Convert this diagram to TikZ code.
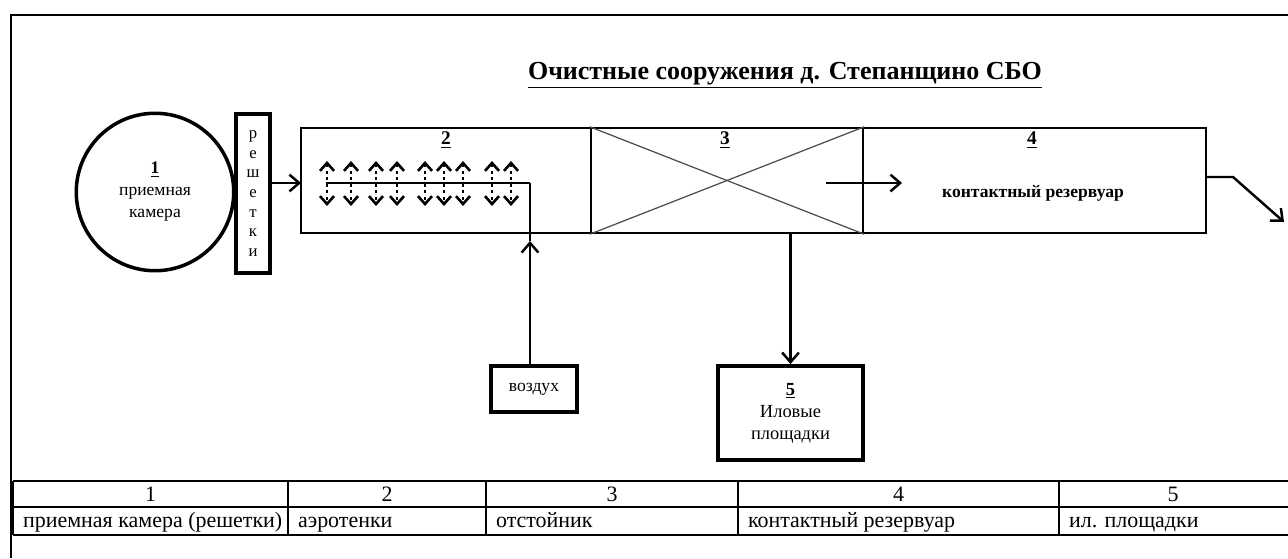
\documentclass[tikz,border=0pt]{standalone}
\usepackage{fontspec}
\setmainfont{Liberation Serif}
\usetikzlibrary{arrows.meta}
\tikzset{
  arr/.style={-{Straight Barb[length=5.5pt,width=9.5pt,line width=1.4pt]}},
  dart/.style={{Straight Barb[length=4.5pt,width=8pt,line width=1.5pt]}-{Straight Barb[length=4.5pt,width=8pt,line width=1.5pt]}},
  thinbox/.style={draw,line width=1.4pt,inner sep=0pt},
  thickbox/.style={draw,line width=2.2pt,inner sep=0pt},
  tabline/.style={line width=1.5pt}
}
\begin{document}
\begin{tikzpicture}[x=0.02cm,y=-0.02cm,line width=1.4pt]
\useasboundingbox (0,0) rectangle (1288,558);
% frame
\draw[line width=1.2pt] (11,558) -- (11,15) -- (1290,15);
\node (title) at (785,75) {\fontsize{14.8}{18}\selectfont\bfseries\underline{Очистные сооружения д. Степанщино СБО}};
% 1 - receiving chamber and screens
\node[circle,draw,line width=2pt,minimum size=3.15cm,align=center,font=\fontsize{10}{12.5}\selectfont] (cam) at (155,192) {\textbf{\underline{1}}\\приемная\\камера};
\node[thickbox,minimum width=0.68cm,minimum height=3.18cm,align=center,font=\fontsize{9.5}{11.2}\selectfont] (resh) at (253,193.5) {р\\е\\ш\\е\\т\\к\\и};
% 2, 3, 4 - main line
\node[thinbox,minimum width=5.8cm,minimum height=2.1cm] (b2) at (446,180.5) {};
\node[thinbox,minimum width=5.44cm,minimum height=2.1cm] (b3) at (727,180.5) {};
\node[thinbox,minimum width=6.86cm,minimum height=2.1cm] (b4) at (1034.5,180.5) {};
\draw[line width=0.7pt,black!70] (b3.north west) -- (b3.south east);
\draw[line width=0.7pt,black!70] (b3.south west) -- (b3.north east);
\node[font=\fontsize{11}{13}\selectfont\bfseries] (n2) at (446,140) {\underline{2}};
\node[font=\fontsize{11}{13}\selectfont\bfseries] (n3) at (725,140) {\underline{3}};
\node[font=\fontsize{11}{13}\selectfont\bfseries] (n4) at (1032,140) {\underline{4}};
\node[font=\fontsize{10}{12}\selectfont\bfseries] (t4) at (1033,193) {контактный резервуар};
\coordinate (b2in) at (301,183);
\draw[arr] (resh.east |- b2in) -- (b2in);
% aeration
\coordinate (airin) at (530,183);
\draw (326,183) -- (airin);
\foreach \x in {327,351,376,397,425,444,463,492,511}
  \draw[line width=1.7pt,dotted,dart] (\x,161) -- (\x,206);
\node[thickbox,minimum width=1.72cm,minimum height=0.92cm,font=\fontsize{10}{12}\selectfont] (air) at (534,389) {воздух};
\coordinate (airmid) at (530,241);
\draw[arr] (air.north -| airin) -- (airmid);
\draw (airmid) -- (airin);
% 3 -> 4
\coordinate (m1) at (826,183);
\coordinate (m2) at (902,183);
\draw[arr] (m1) -- (m2);
% outlet
\coordinate (o1) at (1233,177);
\coordinate (o2) at (1284,222);
\draw[arr] (b4.east |- o1) -- (o1) -- (o2);
% 5 - sludge beds
\node[thickbox,minimum width=2.9cm,minimum height=1.88cm,align=center,font=\fontsize{10.5}{12.5}\selectfont] (sludge) at (790.5,413) {\textbf{\underline{5}}\\Иловые\\площадки};
\draw[arr] (b3.south -| sludge.north) -- (sludge.north);
% table
\draw[tabline] (13,481) -- (1290,481);
\draw[tabline] (13,507) -- (1290,507);
\draw[tabline] (13,535) -- (1290,535);
\foreach \x in {13,288,486,738,1059}
  \draw[tabline] (\x,481) -- (\x,535);
\begin{scope}[font=\fontsize{12.5}{14}\selectfont]
\node[anchor=base] (c1) at (150.5,501) {1};
\node[anchor=base] (c2) at (387,501) {2};
\node[anchor=base] (c3) at (612,501) {3};
\node[anchor=base] (c4) at (898.5,501) {4};
\node[anchor=base] (c5) at (1173,501) {5};
\node[anchor=base west] (d1) at (16,527) {приемная камера (решетки)};
\node[anchor=base west] (d2) at (291,527) {аэротенки};
\node[anchor=base west] (d3) at (489,527) {отстойник};
\node[anchor=base west] (d4) at (741,527) {контактный резервуар};
\node[anchor=base west] (d5) at (1062,527) {ил. площадки};
\end{scope}
\end{tikzpicture}
\end{document}
